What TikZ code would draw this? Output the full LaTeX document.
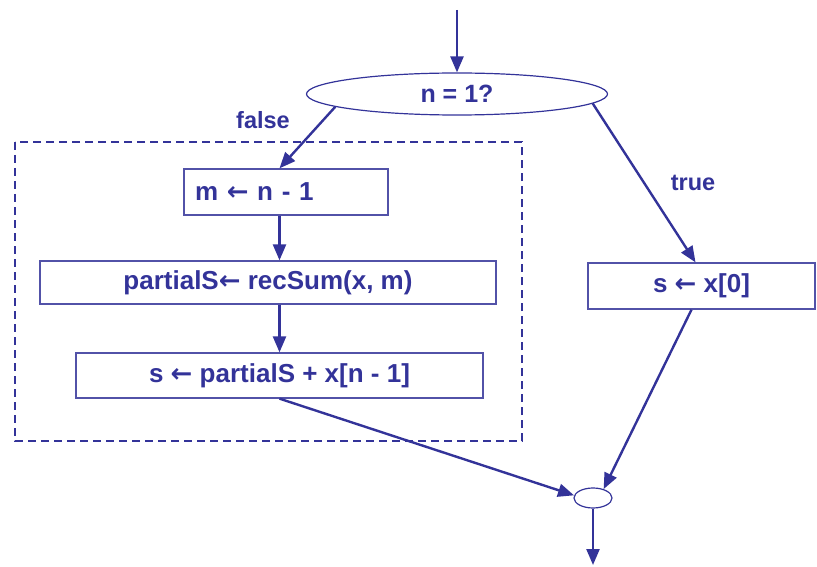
\documentclass[tikz,border=0pt]{standalone}
\usepackage{fontspec}
\setmainfont{Liberation Sans}
\newfontfamily\pfeilfont{DejaVu Sans}
\usetikzlibrary{shapes.geometric, arrows.meta, positioning}
\definecolor{flowblue}{RGB}{51,51,153}
\newcommand{\zuw}{{\pfeilfont\bfseries ←}}

\begin{document}
\begin{tikzpicture}[x=1pt, y=-1pt,
		box/.style={draw=flowblue!85, line width=1.3pt, minimum height=45pt, inner sep=0pt, text=flowblue, font=\fontsize{26}{30}\selectfont\bfseries},
		oval/.style={ellipse, draw=flowblue, line width=1.2pt, inner sep=0pt, text=flowblue, font=\fontsize{25}{30}\selectfont\bfseries},
		pfeil/.style={-{Triangle[length=16pt,width=13pt]}, line width=2.4pt, draw=flowblue},
		marke/.style={text=flowblue, font=\fontsize{23.5}{27}\selectfont\bfseries}]
			\useasboundingbox (0,0) rectangle (817,567);
			
			% Abfrage
			\coordinate (start) at (457,10);
			\node[oval, minimum width=301pt, minimum height=42pt] (test) at (457,94) {n = 1?};
			
			% Rekursiver Zweig
			\draw[flowblue, line width=1.5pt, dash pattern=on 8pt off 5pt] (15,142) rectangle (522,441);
			\node[box, minimum width=204pt, minimum height=46pt, text width=182pt, inner xsep=11pt, align=left] (m) at (286,192) {m \zuw\ n - 1};
			\node[box, minimum width=456pt, minimum height=43pt] (partial) at (268,282.5) {partialS\zuw\ recSum(x, m)};
			\node[box, minimum width=407pt] (s) at (279.5,375.5) {s \zuw\ partialS + x[n - 1]};
			
			% Basisfall
			\node[box, minimum width=227pt, minimum height=46pt] (x0) at (701.5,286) {s \zuw\ x[0]};
			
			% Zusammenfuehrung
			\node[oval, minimum width=38pt, minimum height=20pt] (join) at (593,498) {};
			\coordinate (ende) at (593,565);
			
			% Beschriftung
			\node[marke] (false) at (263,120) {false};
			\node[marke] (true) at (693,183) {true};
			
			% Pfeile
			\draw[pfeil] (start) -- (test.north);
			\draw[pfeil] (test.186) -- (m.north -| s.north);
			\draw[pfeil] (m.south -| s.north) -- (partial.north -| s.north);
			\draw[pfeil] (partial.south -| s.north) -- (s.north);
			\draw[pfeil] (test.356) -- ([xshift=-6pt]x0.north);
			\draw[pfeil] ([xshift=-10pt]x0.south) -- (join.40);
			\draw[pfeil] (s.south) -- (join.172);
			\draw[pfeil] (join.south) -- (ende);
		\end{tikzpicture}
\end{document}
